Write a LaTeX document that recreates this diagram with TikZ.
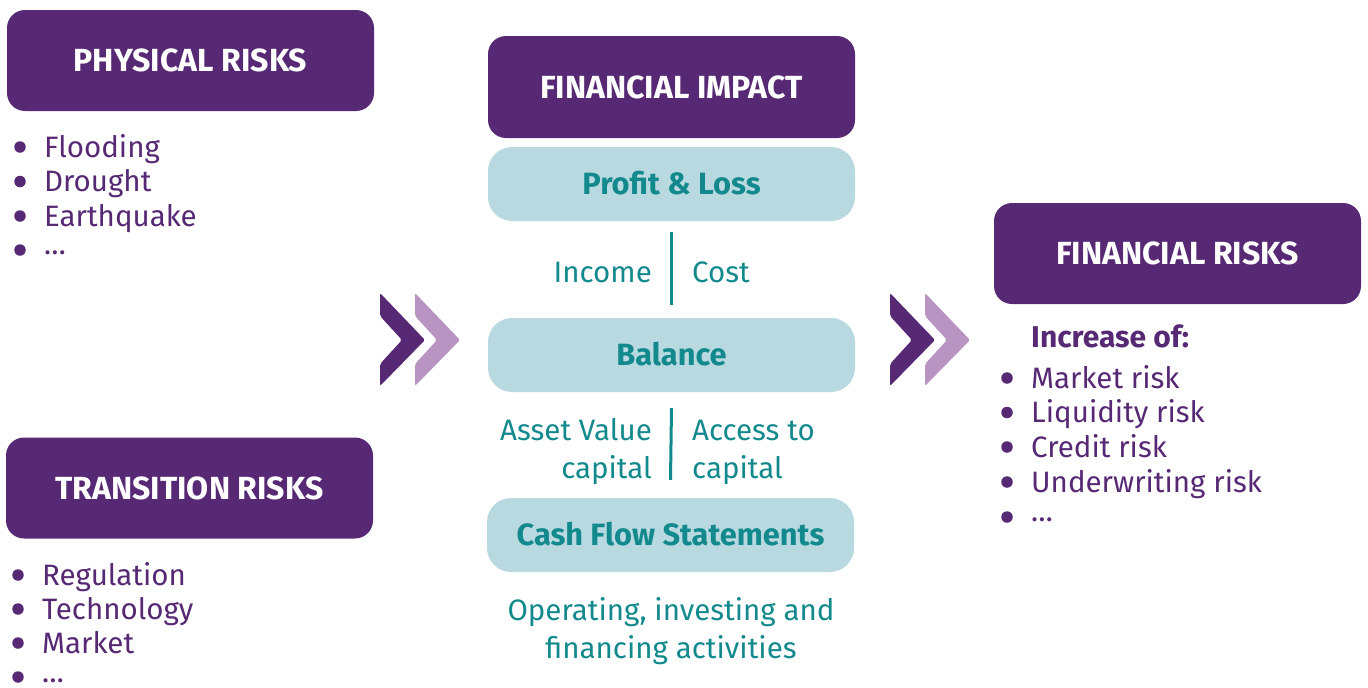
\documentclass[tikz,border=0pt]{standalone}
\usepackage{fontspec}
\setmainfont{Fira Sans}
\definecolor{dpurple}{RGB}{87,40,116}
\definecolor{lpurple}{RGB}{183,148,193}
\definecolor{lblue}{RGB}{185,217,225}
\definecolor{tealtxt}{RGB}{18,137,141}
\newcommand\hdfont{\bfseries\fontsize{32}{34}\selectfont}
\newcommand\bxfont{\bfseries\fontsize{30.8}{34}\selectfont}
\newcommand\subhdfont{\bfseries\fontsize{30}{34}\selectfont}
\newcommand\bdfont{\fontsize{29.5}{34}\selectfont}
\begin{document}
\begin{tikzpicture}[x=1pt,y=-1pt,
  riskbox/.style={fill=dpurple, rounded corners=18pt, text=white, font=\hdfont,
    minimum width=367pt, minimum height=101pt, inner sep=0pt, text height=22pt, text depth=0pt},
  bluebox/.style={fill=lblue, rounded corners=24pt, text=tealtxt, font=\bxfont,
    minimum width=367pt, minimum height=74pt, inner sep=0pt, text height=21pt, text depth=0pt},
  ptxt/.style={text=dpurple, font=\bdfont, anchor=base west, inner sep=0pt},
  ttxt/.style={text=tealtxt, font=\bdfont, inner sep=0pt},
  bul/.style={circle, fill=dpurple, minimum size=11.5pt, inner sep=0pt},
  sepline/.style={draw=tealtxt, line width=3pt},
  chevdark/.style={fill=dpurple, rounded corners=2pt},
  chevlight/.style={fill=lpurple, rounded corners=2pt}]
\useasboundingbox (0,0) rectangle (1368,688);

% Physical risks
\node[riskbox] (phys) at (190.5,60.5) {PHYSICAL RISKS};
\node[bul] (pb1) at (20,147) {};
\node[bul] (pb2) at (20,181.5) {};
\node[bul] (pb3) at (20,216) {};
\node[bul] (pb4) at (20,250) {};
\node[ptxt] (pt1) at (44,157) {Flooding};
\node[ptxt] (pt2) at (44,191.5) {Drought};
\node[ptxt] (pt3) at (44,226) {Earthquake};
\node[ptxt] (pt4) at (44,254) {…};

% Transition risks
\node[riskbox] (trans) at (189.5,488) {TRANSITION RISKS};
\node[bul] (tb1) at (18,575) {};
\node[bul] (tb2) at (18,609) {};
\node[bul] (tb3) at (18,643) {};
\node[bul] (tb4) at (18,677) {};
\node[ptxt] (tt1) at (42,585) {Regulation};
\node[ptxt] (tt2) at (42,619) {Technology};
\node[ptxt] (tt3) at (42,653) {Market};
\node[ptxt] (tt4) at (42,682) {…};

% Chevrons left
\fill[chevdark] (380,293) -- (425,340) -- (380,386) -- (380,364) -- (402,340) -- (380,316) -- cycle;
\fill[chevlight] (415,293) -- (460,340) -- (415,386) -- (415,364) -- (437,340) -- (415,316) -- cycle;

% Middle column
\node[riskbox, minimum height=102pt] (fimp) at (671.5,87) {FINANCIAL IMPACT};
\node[bluebox] (pl) at (671.5,184) {Profit \& Loss};
\node[bluebox] (bal) at (671.5,355) {Balance};
\node[bluebox] (cf) at (670.5,535) {Cash Flow Statements};
\draw[sepline] ([yshift=-11pt]pl.south) -- ([yshift=13pt]bal.north);
\draw[sepline] ([yshift=-16pt]bal.south) -- ([yshift=18pt]cf.north);
\node[ttxt, anchor=base east] (inc) at (652,282) {Income};
\node[ttxt, anchor=base west] (cost) at (692,282) {Cost};
\node[ttxt, anchor=base east] (av1) at (652,440) {Asset Value};
\node[ttxt, anchor=base east] (av2) at (652,478) {capital};
\node[ttxt, anchor=base west] (ac1) at (692,440) {Access to};
\node[ttxt, anchor=base west] (ac2) at (692,478) {capital};
\node[ttxt, anchor=base] (op1) at (671,620) {Operating, investing and};
\node[ttxt, anchor=base] (op2) at (671,658) {financing activities};

% Chevrons right
\fill[chevdark] (890,293) -- (935,340) -- (890,386) -- (890,364) -- (912,340) -- (890,316) -- cycle;
\fill[chevlight] (925,293) -- (970,340) -- (925,386) -- (925,364) -- (947,340) -- (925,316) -- cycle;

% Financial risks
\node[riskbox] (frisk) at (1177.5,253.5) {FINANCIAL RISKS};
\node[ptxt, font=\subhdfont] (incr) at (1031,347) {Increase of:};
\node[bul] (fb1) at (1007,378) {};
\node[bul] (fb2) at (1007,412.5) {};
\node[bul] (fb3) at (1007,447) {};
\node[bul] (fb4) at (1007,482) {};
\node[bul] (fb5) at (1007,517) {};
\node[ptxt] (ft1) at (1031,388) {Market risk};
\node[ptxt] (ft2) at (1031,422.5) {Liquidity risk};
\node[ptxt] (ft3) at (1031,457) {Credit risk};
\node[ptxt] (ft4) at (1031,492) {Underwriting risk};
\node[ptxt] (ft5) at (1031,521) {…};
\end{tikzpicture}
\end{document}
